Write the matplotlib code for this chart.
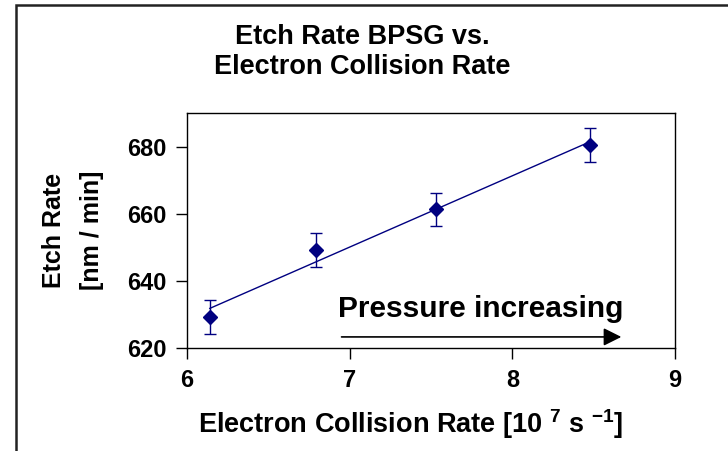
import numpy as np
import matplotlib
matplotlib.use("Agg")
import matplotlib.pyplot as plt
from matplotlib.patches import Rectangle

plt.rcParams['font.family'] = ['Liberation Sans', 'DejaVu Sans']
plt.rcParams['font.weight'] = 'bold'
plt.rcParams['mathtext.fontset'] = 'custom'
plt.rcParams['mathtext.rm'] = 'Liberation Sans:bold'
plt.rcParams['mathtext.it'] = 'Liberation Sans:bold'
plt.rcParams['mathtext.bf'] = 'Liberation Sans:bold'

# Measured etch rate against electron collision rate
collision_rate = [6.14, 6.79, 7.53, 8.48]      # 10^7 s^-1
etch_rate = [629.2, 649.2, 661.3, 680.5]       # nm / min
etch_err = [5.0, 5.0, 5.0, 5.0]

x_ticks = [6, 7, 8, 9]
y_ticks = [620, 640, 660, 680]

navy = '#000080'

fig = plt.figure(figsize=(7.28, 4.51), dpi=100)
ax = fig.add_axes([187 / 728, 1 - 348 / 451, (675 - 187) / 728, (348 - 113) / 451])

# chart area frame
fig.patches.append(Rectangle((16 / 728, -0.1), 1.2, (451 - 5) / 451 + 0.1,
                             transform=fig.transFigure, fill=False,
                             edgecolor='#222222', linewidth=1.8))

ax.errorbar(collision_rate, etch_rate, yerr=etch_err, fmt='D', color=navy,
            markersize=7, ecolor=navy, elinewidth=1, capsize=4, capthick=1,
            zorder=3)

# linear trendline over the measured range
slope, intercept = np.polyfit(collision_rate, etch_rate, 1)
xs = np.array([collision_rate[0], collision_rate[-1]])
ax.plot(xs, slope * xs + intercept, color=navy, linewidth=1, zorder=2)

ax.annotate('', xy=(8.67, 623.3), xytext=(6.95, 623.3),
            arrowprops=dict(arrowstyle='-|>,head_length=0.4,head_width=0.2',
                            mutation_scale=27, color='black', lw=1.2,
                            shrinkA=0, shrinkB=0))
ax.text(6.93, 629.3, 'Pressure increasing', fontsize=21.5, fontweight='bold',
        ha='left', va='baseline')

ax.set_xlim(6, 9)
ax.set_ylim(620, 690)
ax.set_xticks(x_ticks)
ax.set_yticks(y_ticks)
ax.tick_params(direction='out', length=8, width=1, labelsize=17, pad=7)
for s in ax.spines.values():
    s.set_linewidth(1)

fig.text(362 / 728, 1 - 52 / 451, 'Etch Rate BPSG vs.\nElectron Collision Rate',
         ha='center', va='center', fontsize=19.5, fontweight='bold',
         linespacing=1.15)
fig.text(411 / 728, 1 - 424 / 451, r'Electron Collision Rate [10 $^{7}$ s $^{-1}$]',
         ha='center', va='center', fontsize=19.5, fontweight='bold')
fig.text(73 / 728, 1 - 230 / 451, 'Etch Rate\n[nm / min]', rotation=90,
         ha='center', va='center', fontsize=18, fontweight='bold',
         linespacing=1.75)

fig.savefig('out.png', dpi=100)
